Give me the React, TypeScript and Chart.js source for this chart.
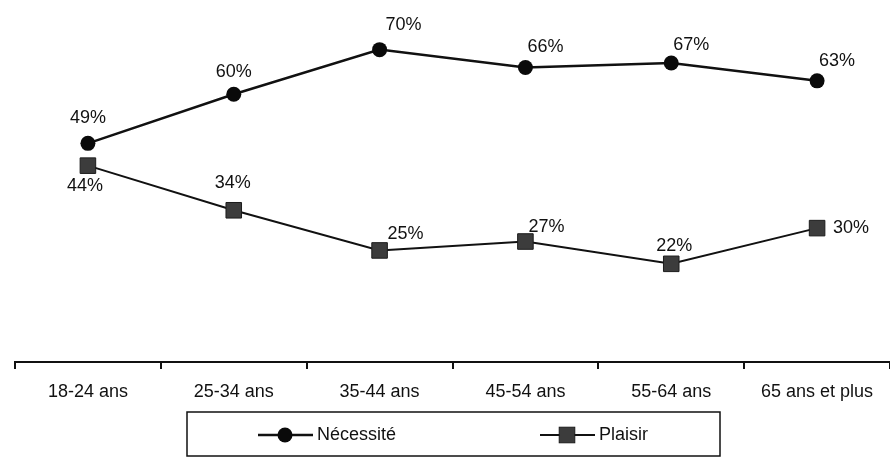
import React, { useEffect, useRef } from "react";
import { Chart, registerables } from "chart.js";

Chart.register(...registerables);

// Age groups and shares (%) for each motivation
const categories = ["18-24 ans", "25-34 ans", "35-44 ans", "45-54 ans", "55-64 ans", "65 ans et plus"];
const necessite = [49, 60, 70, 66, 67, 63];
const plaisir = [44, 34, 25, 27, 22, 30];

// Where each value label sits relative to its point (dx, dy in px)
const necessiteLabelOffsets: [number, number][] = [
  [0, -25], [0, -22], [24, -25], [20, -20], [20, -18], [20, -20],
];
const plaisirLabelOffsets: [number, number][] = [
  [-3, 20], [-1, -27], [26, -16], [21, -14], [3, -18], [34, 0],
];

const FONT = '"Liberation Sans", Arial, sans-serif';
const INK = "#111111";

const valueLabels = {
  id: "valueLabels",
  afterDatasetsDraw(chart: Chart) {
    const ctx = chart.ctx;
    const offsets = [necessiteLabelOffsets, plaisirLabelOffsets];
    ctx.save();
    ctx.font = `18px ${FONT}`;
    ctx.fillStyle = INK;
    ctx.textAlign = "center";
    ctx.textBaseline = "middle";
    chart.data.datasets.forEach((ds, di) => {
      const meta = chart.getDatasetMeta(di);
      meta.data.forEach((pt: any, i: number) => {
        const [dx, dy] = offsets[di][i];
        ctx.fillText(`${ds.data[i]}%`, pt.x + dx, pt.y + dy);
      });
    });
    ctx.restore();
  },
};

const boxedLegend = {
  id: "boxedLegend",
  afterDraw(chart: Chart) {
    const ctx = chart.ctx;
    const box = { x: 187, y: 412, w: 533, h: 44 };
    const cy = box.y + box.h / 2 + 1;
    const starts = [258, 540];
    ctx.save();
    ctx.strokeStyle = INK;
    ctx.lineWidth = 1.5;
    ctx.strokeRect(box.x, box.y, box.w, box.h);
    ctx.font = `18px ${FONT}`;
    ctx.textBaseline = "middle";
    ctx.textAlign = "left";
    chart.data.datasets.forEach((ds: any, di) => {
      const x0 = starts[di];
      ctx.strokeStyle = ds.borderColor;
      ctx.lineWidth = ds.borderWidth;
      ctx.beginPath();
      ctx.moveTo(x0, cy);
      ctx.lineTo(x0 + 55, cy);
      ctx.stroke();
      const mx = x0 + 27;
      ctx.fillStyle = ds.pointBackgroundColor;
      ctx.strokeStyle = ds.pointBorderColor;
      ctx.lineWidth = 1;
      if (ds.pointStyle === "rect") {
        const half = ds.pointRadius * Math.SQRT1_2;
        ctx.fillRect(mx - half, cy - half, half * 2, half * 2);
        ctx.strokeRect(mx - half, cy - half, half * 2, half * 2);
      } else {
        ctx.beginPath();
        ctx.arc(mx, cy, ds.pointRadius, 0, Math.PI * 2);
        ctx.fill();
      }
      ctx.fillStyle = INK;
      ctx.fillText(ds.label, x0 + 59, cy);
    });
    ctx.restore();
  },
};

export default function App() {
  const canvasRef = useRef<HTMLCanvasElement | null>(null);

  useEffect(() => {
    if (!canvasRef.current) return;
    const chart = new Chart(canvasRef.current, {
      type: "line",
      data: {
        labels: categories,
        datasets: [
          {
            label: "Nécessité",
            data: necessite,
            borderColor: INK,
            borderWidth: 2.5,
            pointStyle: "circle",
            pointRadius: 7.5,
            pointHoverRadius: 7.5,
            pointBackgroundColor: "#0a0a0a",
            pointBorderColor: "#0a0a0a",
            pointBorderWidth: 0,
            tension: 0,
          },
          {
            label: "Plaisir",
            data: plaisir,
            borderColor: INK,
            borderWidth: 2,
            pointStyle: "rect",
            pointRadius: 11,
            pointHoverRadius: 11,
            pointBackgroundColor: "#3c3c3c",
            pointBorderColor: "#1c1c1c",
            pointBorderWidth: 1,
            tension: 0,
          },
        ],
      },
      options: {
        animation: false,
        responsive: false,
        devicePixelRatio: 1,
        layout: { autoPadding: false, padding: { top: 5, left: 15, right: 0, bottom: 59 } },
        plugins: {
          legend: { display: false },
          tooltip: { enabled: false },
        },
        scales: {
          x: {
            type: "category",
            offset: true,
            afterFit(scale: any) {
              scale.height = 40;
            },
            border: { display: true, color: INK, width: 2 },
            grid: {
              display: true,
              offset: true,
              drawOnChartArea: false,
              drawTicks: true,
              tickLength: 7,
              color: INK,
              lineWidth: 2,
            },
            ticks: {
              color: INK,
              padding: 12,
              maxRotation: 0,
              autoSkip: false,
              font: { family: FONT, size: 18 },
            },
          },
          y: {
            display: false,
            min: 0,
            max: 80,
          },
        },
      },
      plugins: [valueLabels, boxedLegend],
    });
    return () => chart.destroy();
  }, []);

  return (
    <div style={{ position: "fixed", left: 0, top: 0, width: 890, height: 461, background: "#ffffff" }}>
      <canvas ref={canvasRef} width={890} height={461} />
    </div>
  );
}
